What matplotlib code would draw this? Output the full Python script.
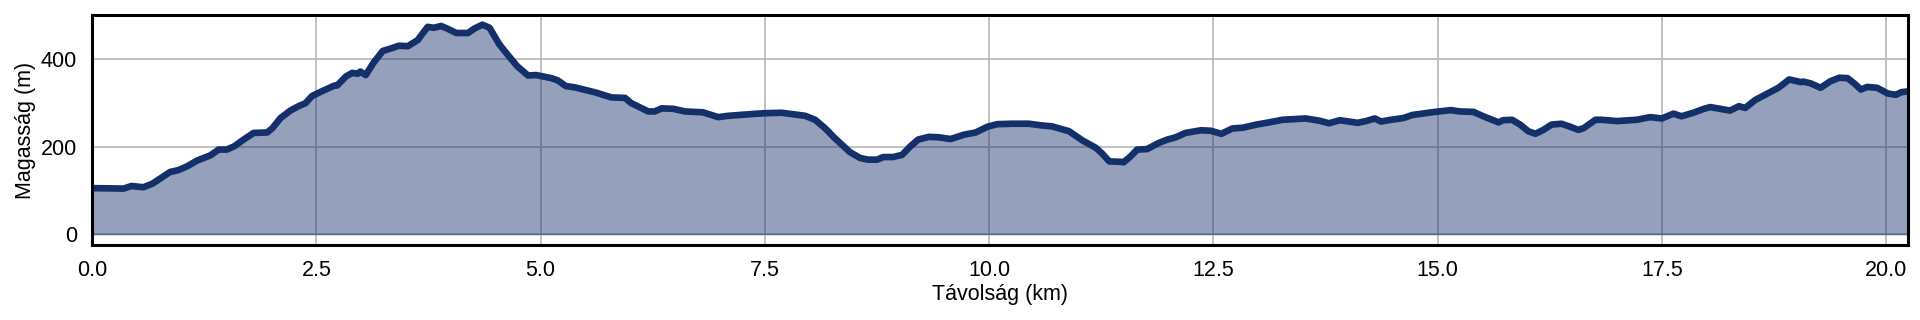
import numpy as np
import matplotlib
matplotlib.use("Agg")
import matplotlib.pyplot as plt

# Elevation profile (km, m)
dist_km = [
    0.00, 0.02, 0.35, 0.44, 0.57, 0.67, 0.87, 0.96, 1.06, 1.17, 1.32, 1.41, 1.50,
    1.58, 1.69, 1.80, 1.95, 2.01, 2.10, 2.21, 2.30, 2.38, 2.45, 2.55, 2.70, 2.73,
    2.83, 2.90, 2.96, 2.99, 3.05, 3.14, 3.24, 3.35, 3.42, 3.52, 3.63, 3.74, 3.81,
    3.89, 3.96, 4.06, 4.19, 4.26, 4.35, 4.43, 4.54, 4.63, 4.74, 4.86, 4.95, 5.12,
    5.19, 5.28, 5.38, 5.60, 5.79, 5.94, 6.01, 6.20, 6.27, 6.35, 6.48, 6.61, 6.81,
    6.98, 7.09, 7.35, 7.50, 7.69, 7.87, 7.95, 8.06, 8.17, 8.28, 8.38, 8.45, 8.56,
    8.65, 8.75, 8.82, 8.93, 9.03, 9.12, 9.21, 9.33, 9.44, 9.57, 9.72, 9.85, 9.98,
    10.09, 10.26, 10.44, 10.59, 10.70, 10.89, 11.04, 11.19, 11.26, 11.34, 11.47,
    11.50, 11.58, 11.65, 11.76, 11.89, 11.99, 12.08, 12.19, 12.36, 12.47, 12.59,
    12.71, 12.83, 12.98, 13.12, 13.27, 13.53, 13.68, 13.79, 13.91, 14.11, 14.20,
    14.30, 14.37, 14.48, 14.62, 14.72, 14.97, 15.15, 15.25, 15.40, 15.51, 15.68,
    15.73, 15.83, 15.92, 16.01, 16.09, 16.18, 16.27, 16.38, 16.48, 16.57, 16.63,
    16.76, 16.83, 17.00, 17.22, 17.37, 17.50, 17.63, 17.72, 17.85, 17.97, 18.04,
    18.15, 18.26, 18.36, 18.43, 18.54, 18.67, 18.80, 18.92, 19.05, 19.08, 19.16,
    19.27, 19.38, 19.48, 19.57, 19.64, 19.72, 19.79, 19.90, 20.02, 20.11, 20.17,
    20.25,
]
elev_m = [
    105, 105, 104, 110, 107, 115, 142, 146, 155, 168, 180, 193, 193,
    200, 216, 231, 232, 242, 265, 282, 292, 299, 315, 325, 339, 339,
    360, 368, 366, 371, 363, 392, 418, 425, 430, 429, 443, 473, 471,
    475, 469, 459, 459, 469, 478, 471, 433, 410, 383, 362, 363, 356,
    351, 338, 335, 324, 312, 311, 299, 280, 280, 287, 286, 280, 278,
    267, 270, 274, 276, 277, 272, 270, 261, 242, 219, 200, 187, 174,
    170, 170, 176, 176, 181, 200, 216, 222, 221, 217, 227, 232, 245,
    251, 252, 252, 248, 246, 235, 214, 197, 184, 166, 165,
    164, 178, 193, 194, 208, 216, 221, 231, 237, 236, 229,
    241, 243, 250, 255, 261, 264, 259, 253, 260, 254, 258,
    264, 257, 261, 265, 272, 279, 283, 280, 279, 269, 255,
    260, 261, 250, 235, 229, 238, 250, 252, 245, 238, 242,
    261, 261, 258, 261, 267, 264, 275, 269, 277, 286, 290,
    286, 282, 292, 288, 306, 320, 334, 353, 347, 348, 344,
    334, 349, 357, 356, 345, 330, 336, 334, 321, 318, 324,
    326,
]

line_color = "#14306b"

plt.rcParams["font.family"] = ["Liberation Sans", "DejaVu Sans"]

fig = plt.figure(figsize=(19.2, 3.2), dpi=100)
ax = fig.add_axes([0.048, 0.234, 0.946, 0.719])

ax.fill_between(dist_km, elev_m, 0, color=line_color, alpha=0.45, linewidth=1)
ax.plot(dist_km, elev_m, color=line_color, linewidth=4.8, solid_capstyle="round")

ax.set_xlim(0, 20.25)
ax.set_ylim(-25, 500)
ax.set_xticks(np.arange(0, 20.01, 2.5))
ax.set_yticks([0, 200, 400])

ax.set_axisbelow(True)
ax.grid(True, color="#b8b8b8", linewidth=1.2)
for s in ax.spines.values():
    s.set_linewidth(2.2)
    s.set_color("black")

ax.tick_params(length=0, labelsize=15.5, pad=11)
ax.set_xlabel("Távolság (km)", fontsize=15.5, labelpad=2)
ax.set_ylabel("Magasság (m)", fontsize=15.5, labelpad=3)

fig.savefig("out.png", dpi=100)
